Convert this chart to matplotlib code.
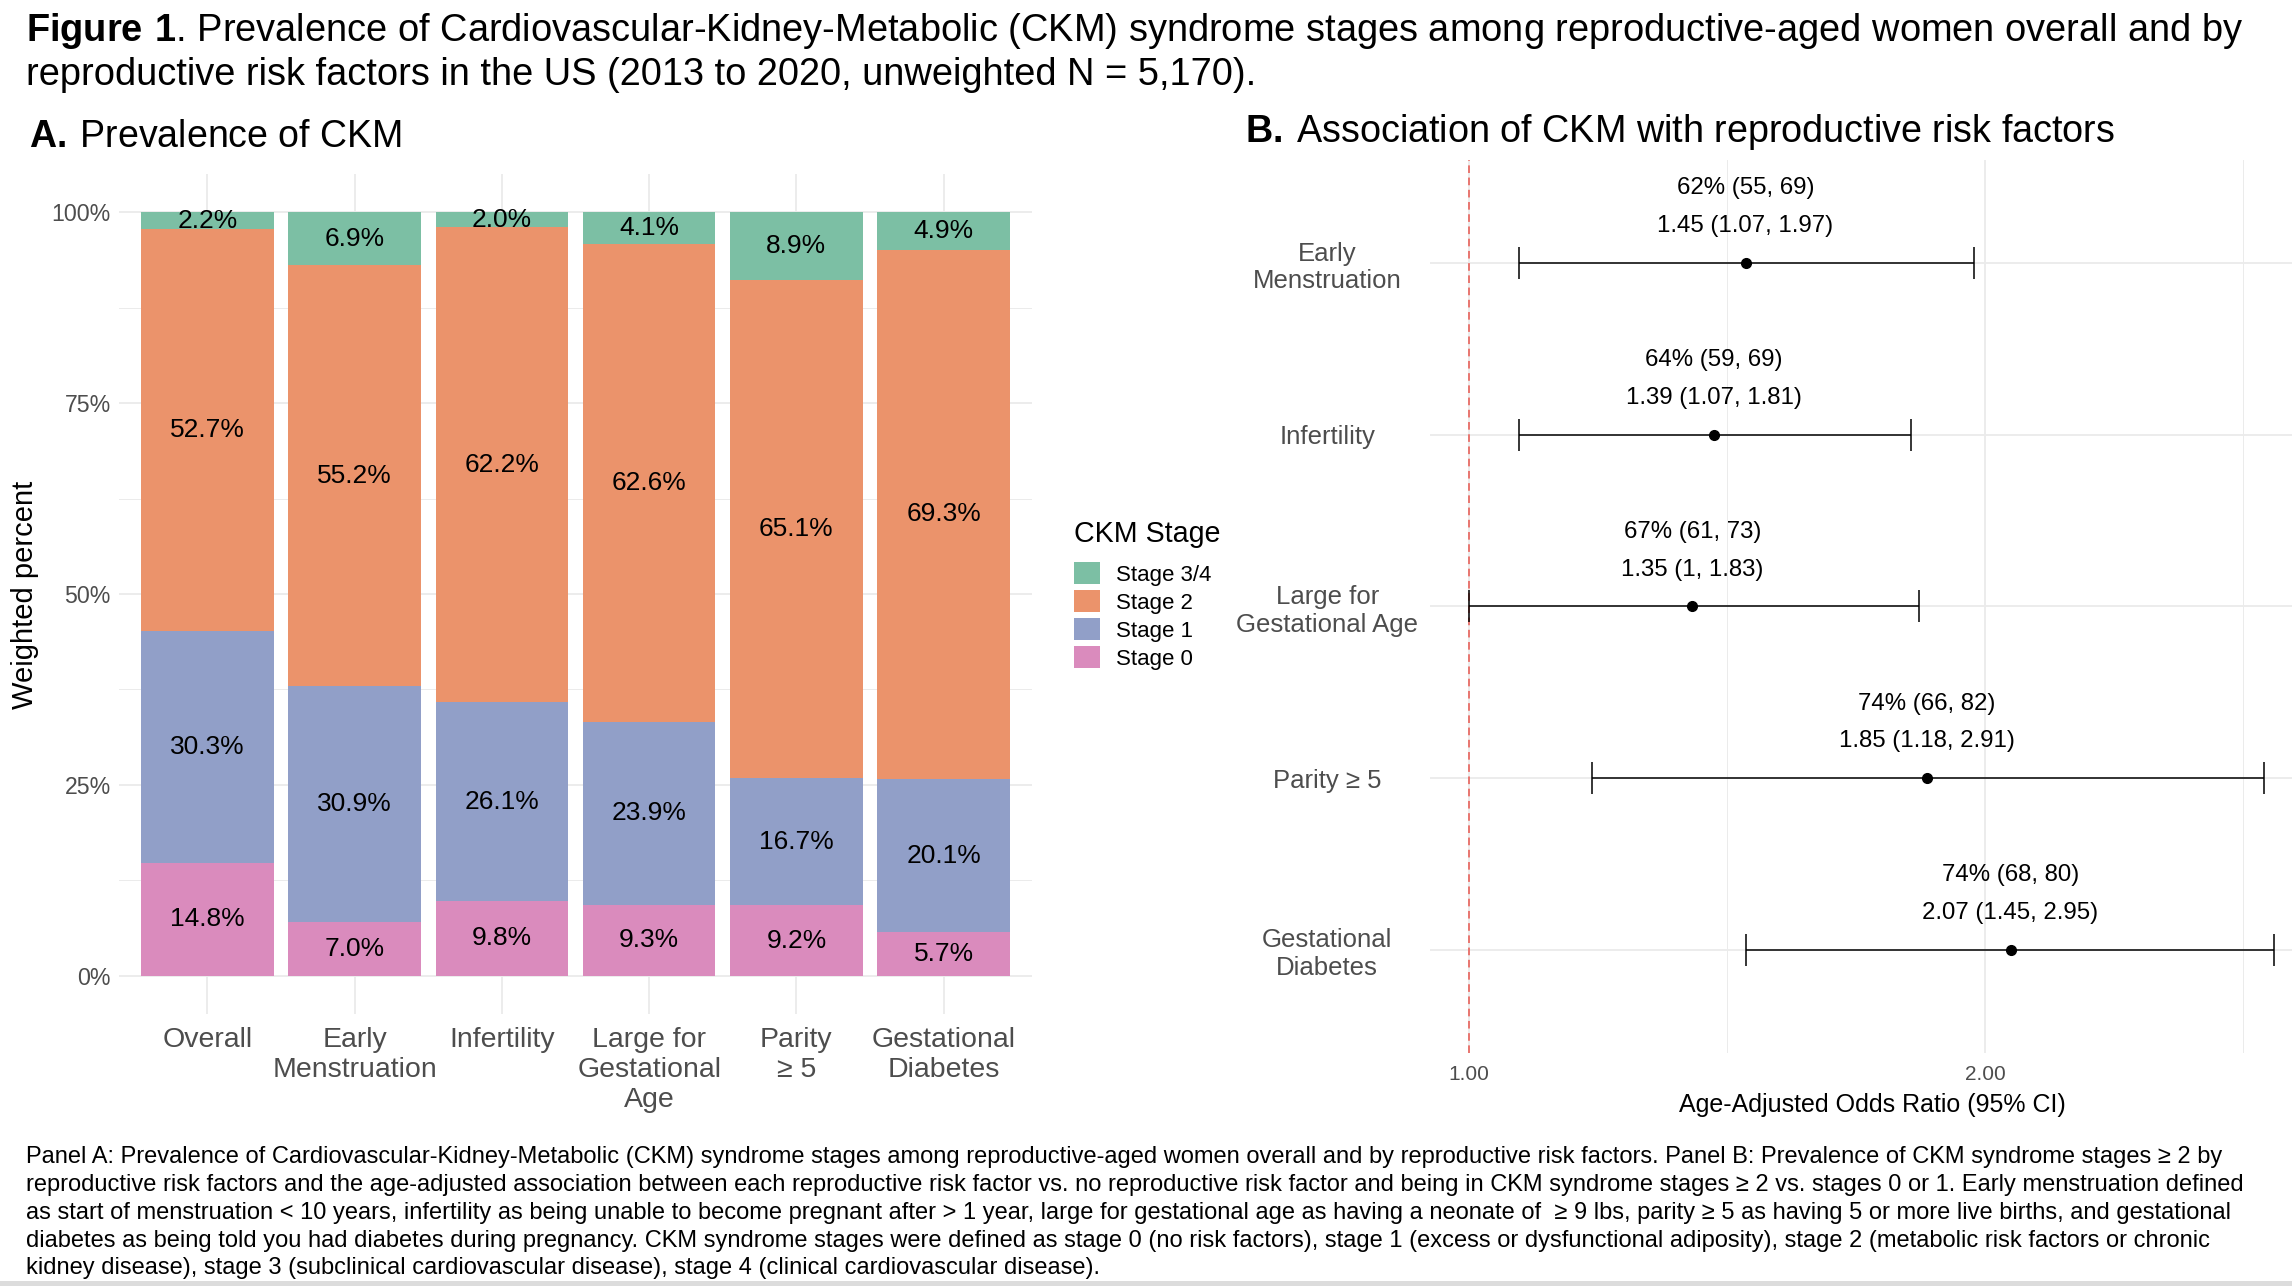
# -*- coding: utf-8 -*-

# import modules
import numpy as np
import matplotlib
matplotlib.use('Agg')
import matplotlib.pyplot as plt
from matplotlib.patches import Patch, Rectangle

plt.rcParams['font.family'] = ['Liberation Sans', 'DejaVu Sans']
plt.rcParams['mathtext.fontset'] = 'custom'
plt.rcParams['mathtext.rm'] = 'Liberation Sans'
plt.rcParams['mathtext.bf'] = 'Liberation Sans:bold'

# ---- Panel A data (weighted percent by CKM stage) ----
groups = ['Overall', 'Early\nMenstruation', 'Infertility', 'Large for\nGestational\nAge',
          'Parity\n≥ 5', 'Gestational\nDiabetes']
stage0 = [14.8, 7.0, 9.8, 9.3, 9.2, 5.7]
stage1 = [30.3, 30.9, 26.1, 23.9, 16.7, 20.1]
stage2 = [52.7, 55.2, 62.2, 62.6, 65.1, 69.3]
stage34 = [2.2, 6.9, 2.0, 4.1, 8.9, 4.9]
stage_names = ['Stage 0', 'Stage 1', 'Stage 2', 'Stage 3/4']
stage_colors = ['#da8bbd', '#919fc8', '#eb936b', '#7cbfa4']

# ---- Panel B data (age-adjusted odds ratios) ----
factors = ['Early\nMenstruation', 'Infertility', 'Large for\nGestational Age', 'Parity ≥ 5',
           'Gestational\nDiabetes']
or_est = [1.45, 1.39, 1.35, 1.85, 2.07]
or_lo = [1.07, 1.07, 1.00, 1.18, 1.45]
or_hi = [1.97, 1.81, 1.83, 2.91, 2.95]
or_lo_txt = ['1.07', '1.07', '1', '1.18', '1.45']
prev = [62, 64, 67, 74, 74]
prev_lo = [55, 59, 61, 66, 68]
prev_hi = [69, 69, 73, 82, 80]

GRAY_TXT = '#4d4d4d'
GRID = '#ebebeb'

W, H = 2292, 1286
fig = plt.figure(figsize=(W / 100, H / 100), dpi=100)

# ---------------- titles ----------------
fig.text(26 / W, 1 - 31 / H,
         r'$\bf{Figure\ 1}$. Prevalence of Cardiovascular-Kidney-Metabolic (CKM) syndrome stages among reproductive-aged women overall and by',
         fontsize=27.4, va='center', ha='left')
fig.text(26 / W, 1 - 75 / H,
         'reproductive risk factors in the US (2013 to 2020, unweighted N = 5,170).',
         fontsize=27.4, va='center', ha='left')
fig.text(29 / W, 1 - 137 / H, r'$\bf{A.}\,$Prevalence of CKM', fontsize=27, va='center', ha='left')
fig.text(1245 / W, 1 - 132 / H, r'$\bf{B.}\,$Association of CKM with reproductive risk factors',
         fontsize=27.2, va='center', ha='left')

# ---------------- Panel A ----------------
axA = fig.add_axes([119 / W, 1 - 1014 / H, (1032 - 119) / W, (1014 - 174) / H])
x = np.arange(1, len(groups) + 1)
data = np.array([stage0, stage1, stage2, stage34])
data = data / data.sum(axis=0) * 100  # position = fill
bottom = np.zeros(len(groups))
for vals, raw, name, col in zip(data, [stage0, stage1, stage2, stage34], stage_names, stage_colors):
    axA.bar(x, vals, bottom=bottom, width=0.9, color=col, label=name, zorder=2)
    for xi, b, v, r in zip(x, bottom, vals, raw):
        axA.text(xi, b + v / 2, '%.1f%%' % r, ha='center', va='center', fontsize=19, zorder=3)
    bottom += vals

axA.set_xlim(0.4, len(groups) + 0.6)
axA.set_ylim(-5, 105)
axA.set_yticks([0, 25, 50, 75, 100])
axA.set_yticklabels(['0%', '25%', '50%', '75%', '100%'])
axA.set_yticks([12.5, 37.5, 62.5, 87.5], minor=True)
axA.set_xticks(x)
axA.set_xticklabels(groups)
axA.tick_params(axis='y', which='both', length=0, labelsize=16.7, labelcolor=GRAY_TXT, pad=6)
axA.tick_params(axis='x', which='both', length=0, labelsize=20.5, labelcolor=GRAY_TXT, pad=9.5)
axA.grid(True, which='major', color=GRID, lw=1.3, zorder=0)
axA.grid(True, which='minor', axis='y', color=GRID, lw=0.7, zorder=0)
axA.set_axisbelow(True)
for s in axA.spines.values():
    s.set_visible(False)
fig.text(25 / W, 1 - 595 / H, 'Weighted percent', rotation=90, fontsize=21,
         ha='center', va='center')

# legend
fig.text(1074 / W, 1 - 534 / H, 'CKM Stage', fontsize=20.6, ha='left', va='center')
handles = [Patch(facecolor=c, edgecolor='none', label=n)
           for n, c in zip(stage_names[::-1], stage_colors[::-1])]
leg = fig.legend(handles=handles, loc='upper left',
                 bbox_to_anchor=(1074 / W, 1 - 562 / H), frameon=False, fontsize=16,
                 handlelength=1.15, handleheight=1.15, handletextpad=0.75,
                 labelspacing=0.2, borderpad=0, borderaxespad=0)

# ---------------- Panel B ----------------
axB = fig.add_axes([1430 / W, 1 - 1053 / H, (2315 - 1430) / W, (1053 - 160) / H])
rows = np.arange(1, len(factors) + 1)
est = np.array(or_est)
axB.axvline(1.0, color='#e8554e', lw=1.1, ls=(0, (5, 3)), zorder=2)
axB.errorbar(est, rows, xerr=[est - np.array(or_lo), np.array(or_hi) - est], fmt='o',
             color='black', ms=7, elinewidth=1.1, capsize=11.5, capthick=1.1, zorder=3)
for r, e, lo_t, hi, p, pl, ph in zip(rows, or_est, or_lo_txt, or_hi, prev, prev_lo, prev_hi):
    axB.text(e, r - 0.435, '%d%% (%d, %d)' % (p, pl, ph), ha='center', va='center', fontsize=17.3)
    axB.text(e, r - 0.215, '%.2f (%s, %.2f)' % (e, lo_t, hi), ha='center', va='center', fontsize=17.3)

axB.set_xscale('log')
axB.set_xlim(0.949, 3.116)
axB.set_ylim(len(factors) + 0.6, 0.4)
axB.set_xticks([1.0, 2.0])
axB.set_xticklabels(['1.00', '2.00'])
axB.set_xticks([2 ** 0.5, 2 ** 1.5], minor=True)
axB.set_xticklabels([], minor=True)
axB.set_yticks(rows)
axB.set_yticklabels(factors, ha='center', multialignment='center')
axB.tick_params(axis='y', which='both', length=0, labelsize=18.5, labelcolor=GRAY_TXT, pad=74)
axB.tick_params(axis='x', which='both', length=0, labelsize=15, labelcolor=GRAY_TXT, pad=9)
axB.grid(True, which='major', color=GRID, lw=1.3, zorder=0)
axB.grid(True, which='minor', axis='x', color=GRID, lw=0.7, zorder=0)
axB.set_axisbelow(True)
for s in axB.spines.values():
    s.set_visible(False)
axB.set_xlabel('Age-Adjusted Odds Ratio (95% CI)', fontsize=18)
axB.xaxis.set_label_coords(0.5, -0.058)
axB.xaxis.label.set_va('center')

# ---------------- caption ----------------
caption = [
    'Panel A: Prevalence of Cardiovascular-Kidney-Metabolic (CKM) syndrome stages among reproductive-aged women overall and by reproductive risk factors. Panel B: Prevalence of CKM syndrome stages ≥ 2 by',
    'reproductive risk factors and the age-adjusted association between each reproductive risk factor vs. no reproductive risk factor and being in CKM syndrome stages ≥ 2 vs. stages 0 or 1. Early menstruation defined',
    'as start of menstruation < 10 years, infertility as being unable to become pregnant after > 1 year, large for gestational age as having a neonate of  ≥ 9 lbs, parity ≥ 5 as having 5 or more live births, and gestational',
    'diabetes as being told you had diabetes during pregnancy. CKM syndrome stages were defined as stage 0 (no risk factors), stage 1 (excess or dysfunctional adiposity), stage 2 (metabolic risk factors or chronic',
    'kidney disease), stage 3 (subclinical cardiovascular disease), stage 4 (clinical cardiovascular disease).',
]
cap_y = [1157, 1185, 1213, 1241, 1268]
for line, yy in zip(caption, cap_y):
    fig.text(26 / W, 1 - yy / H, line, fontsize=17, ha='left', va='center')

fig.add_artist(Rectangle((0, 0), 1, 5 / H, transform=fig.transFigure, color='#dcdcdc', lw=0))

fig.savefig('out.png', dpi=100)
